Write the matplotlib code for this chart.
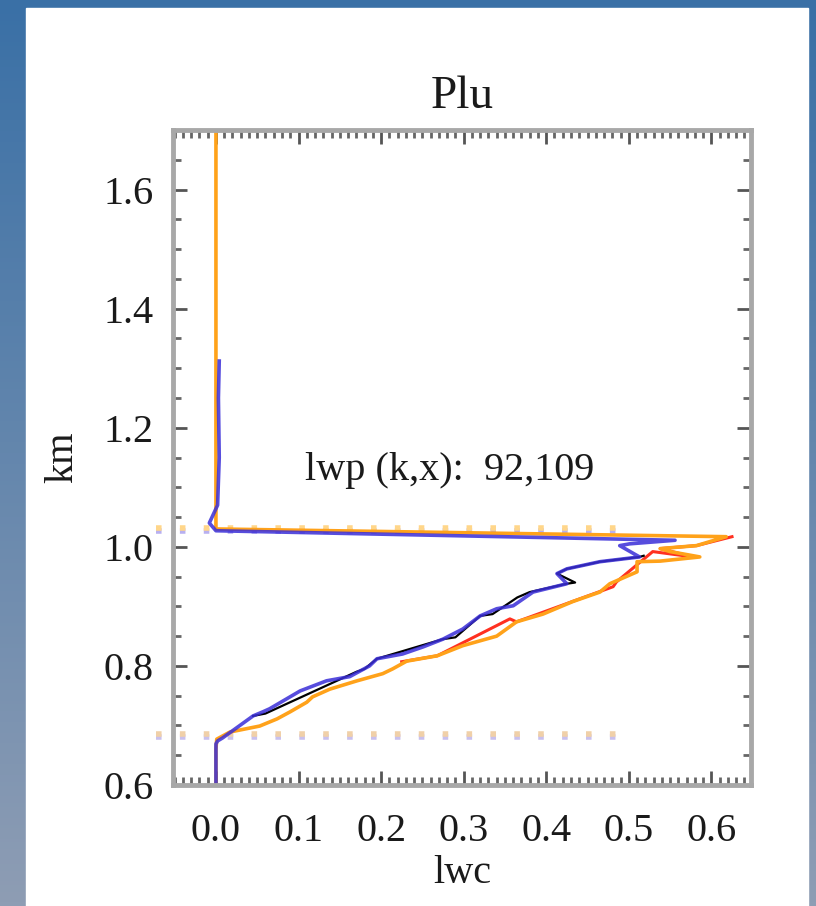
import matplotlib
matplotlib.use('Agg')
import matplotlib.pyplot as plt
from matplotlib.ticker import MultipleLocator, FormatStrFormatter
from matplotlib.patches import Rectangle
import numpy as np

plt.rcParams['font.family'] = ['Liberation Serif', 'DejaVu Serif']

# profile 1 (blue, black underneath)
blue_lwc = [0.0, 0.0, 0.002, 0.008, 0.045, 0.057, 0.065, 0.086, 0.102, 0.134, 0.162, 0.186,
            0.195, 0.226, 0.251, 0.275, 0.299, 0.320, 0.340, 0.360, 0.384, 0.425, 0.413, 0.425,
            0.465, 0.513, 0.489, 0.501, 0.556, 0.0, -0.008, 0.002, 0.004, 0.003, 0.004]
blue_km = [0.600, 0.669, 0.674, 0.679, 0.716, 0.723, 0.728, 0.745, 0.758, 0.775, 0.782, 0.800,
           0.812, 0.820, 0.832, 0.845, 0.862, 0.884, 0.896, 0.901, 0.924, 0.938, 0.955, 0.963,
           0.975, 0.983, 1.002, 1.005, 1.011, 1.027, 1.040, 1.070, 1.150, 1.250, 1.312]
black_lwc = [0.045, 0.060, 0.170, 0.180, 0.195, 0.275, 0.290, 0.320, 0.335, 0.365, 0.380,
             0.425, 0.435, 0.413, 0.425, 0.465, 0.513, 0.518]
black_km = [0.716, 0.720, 0.790, 0.795, 0.812, 0.845, 0.848, 0.884, 0.887, 0.915, 0.924,
            0.938, 0.940, 0.955, 0.963, 0.975, 0.983, 0.985]

# profile 2 (orange, red underneath)
orange_lwc = [0.0, 0.0, 0.001, 0.017, 0.053, 0.074, 0.090, 0.110, 0.117, 0.138, 0.171, 0.202,
              0.214, 0.231, 0.268, 0.299, 0.340, 0.364, 0.396, 0.432, 0.465, 0.477, 0.510, 0.510,
              0.538, 0.586, 0.550, 0.538, 0.582, 0.618, 0.0, 0.0]
orange_km = [0.600, 0.660, 0.677, 0.689, 0.699, 0.711, 0.723, 0.739, 0.748, 0.761, 0.775, 0.787,
             0.795, 0.808, 0.817, 0.834, 0.850, 0.874, 0.887, 0.908, 0.924, 0.938, 0.958, 0.975,
             0.976, 0.983, 0.992, 0.997, 1.002, 1.017, 1.030, 1.700]
red_lwc = [0.225, 0.268, 0.356, 0.364, 0.481, 0.485, 0.529, 0.578, 0.538, 0.582, 0.625]
red_km = [0.807, 0.817, 0.879, 0.874, 0.933, 0.941, 0.992, 0.983, 0.997, 1.002, 1.017]

# cloud top / base markers
top_orange, top_blue = 1.031, 1.026
base_orange, base_blue = 0.685, 0.680
marker_x = [-0.073, 0.49]

lwp_text = 'lwp (k,x):  92,109'

fig = plt.figure(figsize=(8.16, 9.06), dpi=100)

# slide background
bg = fig.add_axes([0, 0, 1, 1])
grad = np.linspace(0, 1, 256)[:, None]
top_c = np.array([58, 112, 166]) / 255
bot_c = np.array([142, 157, 180]) / 255
img = top_c[None, None, :] * (1 - grad[:, :, None]) + bot_c[None, None, :] * grad[:, :, None]
bg.imshow(img, aspect='auto', extent=[0, 1, 0, 1])
bg.add_patch(Rectangle((26 / 816, 0), (808 - 26) / 816, 1 - 8 / 906, color='white'))
bg.set_xlim(0, 1)
bg.set_ylim(0, 1)
bg.axis('off')

ax = fig.add_axes([173 / 816, 1 - 785 / 906, (751 - 173) / 816, (785 - 130) / 906])

dots = (0, (1, 3.3))
ax.plot(marker_x, [top_blue, top_blue], color='#b8b0f0', lw=4, ls=dots, clip_on=False)
ax.plot(marker_x, [top_orange, top_orange], color='#ffd68a', lw=4, ls=dots, clip_on=False)
ax.plot(marker_x, [base_blue, base_blue], color='#c8c0ee', lw=4, ls=dots, clip_on=False)
ax.plot(marker_x, [base_orange, base_orange], color='#f0d0a8', lw=4, ls=dots, clip_on=False)

ax.plot(red_lwc, red_km, color='#ff3020', lw=2.2)
ax.plot(orange_lwc, orange_km, color='#ffa21a', lw=2.6)
ax.plot(black_lwc, black_km, color='black', lw=1.6)
ax.plot(blue_lwc, blue_km, color='#3a2ed8', lw=2.6, alpha=0.85)

ax.text(0.108, 1.128, lwp_text, fontsize=29, color='#1a1a1a', va='center')

ax.set_xlim(-0.052, 0.648)
ax.set_ylim(0.6, 1.7)
ax.set_xticks([0.0, 0.1, 0.2, 0.3, 0.4, 0.5, 0.6])
ax.set_yticks([0.6, 0.8, 1.0, 1.2, 1.4, 1.6])
ax.xaxis.set_minor_locator(MultipleLocator(0.01))
ax.yaxis.set_minor_locator(MultipleLocator(0.05))
ax.xaxis.set_major_formatter(FormatStrFormatter('%.1f'))
ax.yaxis.set_major_formatter(FormatStrFormatter('%.1f'))
ax.tick_params(which='major', direction='in', top=True, right=True, length=10, width=2,
               color='#555555', labelsize=29, labelcolor='#1a1a1a')
ax.tick_params(axis='x', which='major', pad=20)
ax.tick_params(axis='y', which='major', pad=14)
ax.tick_params(which='minor', direction='in', top=True, right=True, length=6, width=2,
               color='#666666')
for s in ax.spines.values():
    s.set_color('#a8a8a8')
    s.set_linewidth(3.5)

ax.set_title('Plu', fontsize=34, pad=16, color='#1a1a1a')
ax.set_xlabel('lwc', fontsize=29, labelpad=4, color='#1a1a1a')
ax.set_ylabel('km', fontsize=29, labelpad=16, color='#1a1a1a')

fig.savefig('out.png', dpi=100)
